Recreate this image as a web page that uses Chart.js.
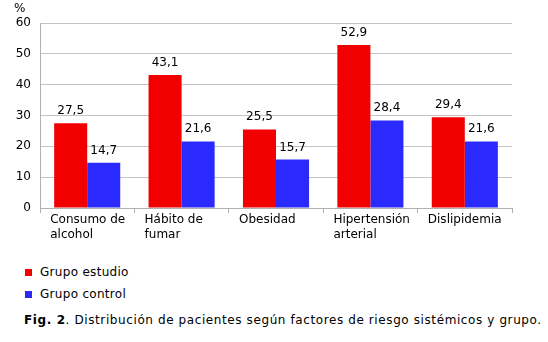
<!DOCTYPE html>
<html>
<head>
<meta charset="utf-8">
<script src="https://cdn.jsdelivr.net/npm/chart.js@4/dist/chart.umd.min.js"></script>
<style>
  body { margin: 0; background: #fff; font-family: "DejaVu Sans", Verdana, sans-serif; font-size: 12px; color: #000; }
  #wrap { position: absolute; left: 0; top: 0; width: 548px; height: 245px; }
  #pct { position: absolute; left: 14px; top: 1px; }
  .leg { position: absolute; left: 25px; letter-spacing: 0.3px; }
  .leg span { display: inline-block; width: 7px; height: 7px; margin-right: 8px; vertical-align: 0px; }
  #caption { position: absolute; left: 24px; top: 313px; white-space: nowrap; letter-spacing: 0.6px; }
</style>
</head>
<body>
<div id="wrap"><canvas id="chart"></canvas></div>
<div id="pct">%</div>
<div class="leg" style="top:265px"><span style="background:#f20000"></span>Grupo estudio</div>
<div class="leg" style="top:287px"><span style="background:#2a2aff"></span>Grupo control</div>
<div id="caption"><b>Fig. 2</b>. Distribución de pacientes según factores de riesgo sistémicos y grupo.</div>
<script>
const categories = [['Consumo de', 'alcohol'], ['Hábito de', 'fumar'], 'Obesidad', ['Hipertensión', 'arterial'], 'Dislipidemia'];
const estudio = [27.5, 43.1, 25.5, 52.9, 29.4];
const control = [14.7, 21.6, 15.7, 28.4, 21.6];
const yTicks = [0, 10, 20, 30, 40, 50, 60];

// value labels above every bar, comma decimal
const valueLabels = {
    id: 'valueLabels',
    afterDatasetsDraw(chart) {
        const ctx = chart.ctx;
        ctx.save();
        ctx.font = '12px "DejaVu Sans", Verdana, sans-serif';
        ctx.fillStyle = '#000';
        ctx.textAlign = 'center';
        ctx.textBaseline = 'alphabetic';
        chart.data.datasets.forEach((ds, i) => {
            chart.getDatasetMeta(i).data.forEach((bar, j) => {
                ctx.fillText(ds.data[j].toFixed(1).replace('.', ','), bar.x, bar.y - 9);
            });
        });
        ctx.restore();
    }
};

new Chart(document.getElementById('chart'), {
    type: 'bar',
    data: {
        labels: categories,
        datasets: [
            { label: 'Grupo estudio', data: estudio, backgroundColor: '#f20000' },
            { label: 'Grupo control', data: control, backgroundColor: '#2a2aff' }
        ]
    },
    options: {
        responsive: true,
        maintainAspectRatio: false,
        animation: false,
        layout: { padding: { top: 23, right: 36, left: 0, bottom: 0 } },
        datasets: { bar: { categoryPercentage: 0.7, barPercentage: 1.0 } },
        scales: {
            x: {
                grid: { offset: true, drawOnChartArea: false, drawTicks: true, tickLength: 5, color: '#b0b0b0' },
                border: { color: '#b0b0b0' },
                ticks: {
                    color: '#000', font: { family: '"DejaVu Sans", Verdana, sans-serif', size: 12 },
                    padding: 0, maxRotation: 0, autoSkip: false, align: 'start', labelOffset: -37
                },
                afterFit(s) { s.height = 37; }
            },
            y: {
                min: 0, max: 60,
                afterBuildTicks(s) { s.ticks = yTicks.map(v => ({ value: v })); },
                grid: { color: '#c4c4c4', drawTicks: false },
                border: { color: '#b0b0b0' },
                ticks: { color: '#000', font: { family: '"DejaVu Sans", Verdana, sans-serif', size: 12 }, padding: 9 },
                afterFit(s) { s.width = 40; }
            }
        },
        plugins: {
            legend: { display: false },
            tooltip: { enabled: false }
        }
    },
    plugins: [valueLabels]
});
</script>
</body>
</html>
